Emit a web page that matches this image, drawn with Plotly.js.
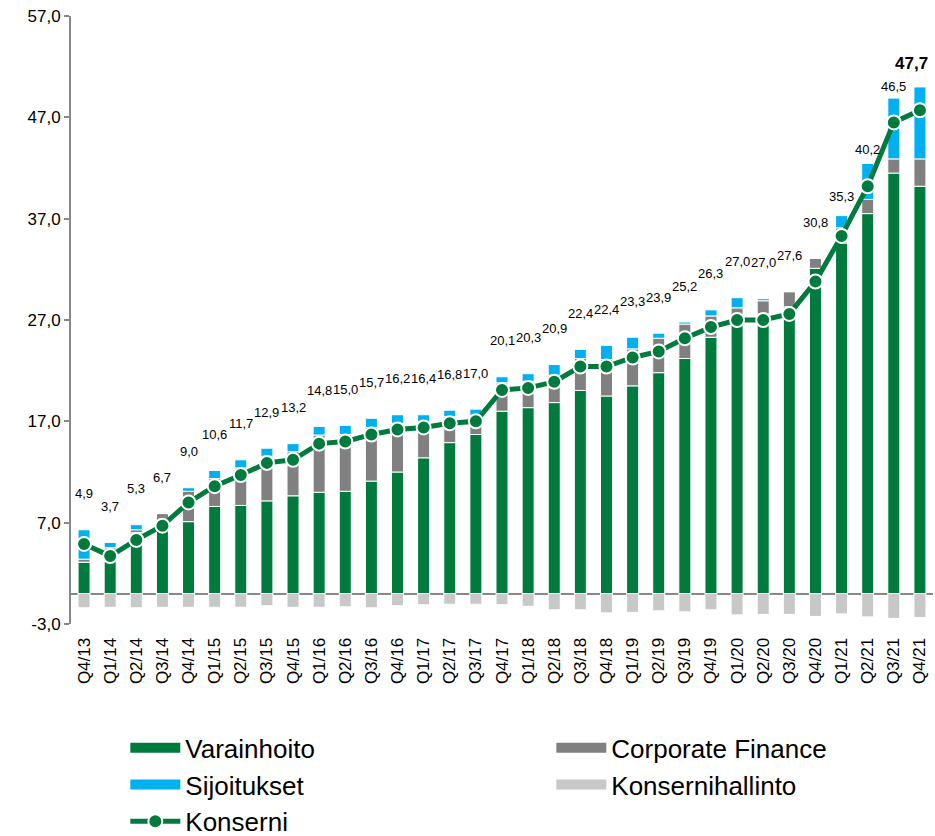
<!DOCTYPE html>
<html>
<head>
<meta charset="utf-8">
<script src="https://cdn.plot.ly/plotly-3.0.1.min.js"></script>
<style>
  body { margin: 0; background: #fff; }
  #PLOT { width: 935px; height: 836px; }
</style>
</head>
<body>
<div id="PLOT"></div>
<script>
const quarters = ['Q4/13', 'Q1/14', 'Q2/14', 'Q3/14', 'Q4/14', 'Q1/15', 'Q2/15', 'Q3/15', 'Q4/15',
  'Q1/16', 'Q2/16', 'Q3/16', 'Q4/16', 'Q1/17', 'Q2/17', 'Q3/17', 'Q4/17', 'Q1/18', 'Q2/18', 'Q3/18',
  'Q4/18', 'Q1/19', 'Q2/19', 'Q3/19', 'Q4/19', 'Q1/20', 'Q2/20', 'Q3/20', 'Q4/20', 'Q1/21', 'Q2/21',
  'Q3/21', 'Q4/21'];

const varainhoito = [3.1, 4.4, 6.0, 6.4, 7.1, 8.6, 8.7, 9.15, 9.65, 10.0, 10.1, 11.1, 12.0, 13.4, 14.9,
  15.7, 18.0, 18.35, 18.85, 20.05, 19.5, 20.5, 21.8, 23.2, 25.3, 26.9, 27.6, 28.3, 32.1, 34.6, 37.5, 41.5, 40.2];
const corporateFinance = [0.3, 0.15, 0.3, 1.5, 3.0, 2.75, 3.7, 4.4, 4.35, 5.65, 5.6, 5.3, 4.8, 3.55, 2.55,
  1.9, 2.8, 2.6, 2.7, 3.15, 3.6, 3.65, 3.4, 3.4, 2.1, 1.3, 1.3, 1.5, 1.0, 1.5, 1.4, 1.4, 2.7];
const sijoitukset = [2.9, 0.5, 0.5, 0, 0.35, 0.8, 0.8, 0.8, 0.8, 0.85, 0.9, 0.9, 0.85, 0.7, 0.65,
  0.6, 0.6, 0.75, 1.05, 0.9, 1.4, 1.15, 0.5, 0.2, 0.6, 1.0, 0.2, 0, 0, 1.2, 3.55, 6.0, 7.1];
const konsernihallinto = [-1.4, -1.35, -1.4, -1.35, -1.35, -1.35, -1.35, -1.2, -1.35, -1.35, -1.3, -1.4,
  -1.2, -1.1, -1.05, -1.05, -1.1, -1.25, -1.6, -1.6, -1.9, -1.85, -1.7, -1.8, -1.6, -2.1, -2.05, -2.05,
  -2.25, -2.0, -2.3, -2.45, -2.35];
const konserni = [4.9, 3.7, 5.3, 6.7, 9.0, 10.6, 11.7, 12.9, 13.2, 14.8, 15.0, 15.7, 16.2, 16.4, 16.8,
  17.0, 20.1, 20.3, 20.9, 22.4, 22.4, 23.3, 23.9, 25.2, 26.3, 27.0, 27.0, 27.6, 30.8, 35.3, 40.2, 46.5, 47.7];

const GREEN = '#007A3D';
const DARKGREY = '#808080';
const BLUE = '#00B0F0';
const LIGHTGREY = '#C8C8C8';
const FONT = 'Arial, "Liberation Sans", sans-serif';

function barTrace(name, values, color) {
  return {
    type: 'bar', name: name, x: quarters, y: values, legendgroup: name, showlegend: false,
    marker: { color: color, line: { color: '#ffffff', width: 1 } },
    hoverinfo: 'x+y+name'
  };
}

// wide legend swatches, like the original
function legendTrace(name, color) {
  return {
    type: 'scatter', mode: 'lines', name: name, legendgroup: name, x: [null], y: [null],
    line: { color: color, width: 10 }, hoverinfo: 'skip'
  };
}

const fmt = v => v.toFixed(1).replace('.', ',');

// y ticks -3 ... 57 with a plain hyphen as minus
let yTicks = [];
for (let v = -3; v <= 57; v += 10) yTicks.push(v);

let data = [
  barTrace('Varainhoito', varainhoito, GREEN),
  barTrace('Corporate Finance', corporateFinance, DARKGREY),
  barTrace('Sijoitukset', sijoitukset, BLUE),
  barTrace('Konsernihallinto', konsernihallinto, LIGHTGREY),
  legendTrace('Varainhoito', GREEN),
  legendTrace('Corporate Finance', DARKGREY),
  legendTrace('Sijoitukset', BLUE),
  legendTrace('Konsernihallinto', LIGHTGREY),
  {
    type: 'scatter', mode: 'lines+markers', name: 'Konserni', x: quarters, y: konserni,
    line: { color: GREEN, width: 5 },
    marker: { color: GREEN, size: 14, line: { color: '#ffffff', width: 2 } },
    hoverinfo: 'x+y+name'
  }
];

// value labels sit above the top of each stacked bar; the tall 2021 bars get them closer
const recentShift = [19, 14, 12, 23];
let annotations = quarters.map((q, i) => {
  const top = varainhoito[i] + corporateFinance[i] + sijoitukset[i];
  const last = i === quarters.length - 1;
  const k = i - (quarters.length - recentShift.length);
  return {
    x: q, y: top, yshift: k >= 0 ? recentShift[k] : 36, xshift: last ? -8 : 0,
    yanchor: 'middle', showarrow: false,
    text: last ? '<b>' + fmt(konserni[i]) + '</b>' : fmt(konserni[i]),
    font: { family: FONT, size: last ? 17 : 13, color: '#000' }
  };
});

let layout = {
  width: 935,
  height: 836,
  margin: { l: 71, r: 2, t: 16, b: 212, autoexpand: false },
  paper_bgcolor: '#fff',
  plot_bgcolor: '#fff',
  separators: ', ',
  barmode: 'relative',
  bargap: 0.54,
  font: { family: FONT, color: '#000' },
  showlegend: true,
  legend: {
    orientation: 'h', x: 0.063, xanchor: 'left', y: -0.165, yanchor: 'top',
    entrywidth: 361, entrywidthmode: 'pixels', itemwidth: 50,
    font: { family: FONT, size: 26, color: '#000' },
    traceorder: 'normal', bgcolor: 'rgba(0,0,0,0)'
  },
  xaxis: {
    type: 'category', range: [-0.5, quarters.length - 0.5], tickangle: -90,
    showline: false, showgrid: false, zeroline: false,
    ticks: 'outside', ticklen: 6, tickcolor: 'rgba(0,0,0,0)',
    tickfont: { family: FONT, size: 17, color: '#000' }
  },
  yaxis: {
    range: [-3, 57], tickmode: 'array', tickvals: yTicks, ticktext: yTicks.map(fmt),
    showgrid: false, showline: true, linecolor: '#888', linewidth: 2,
    ticks: 'outside', ticklen: 5, tickcolor: '#888', tickwidth: 2,
    zeroline: true, zerolinecolor: '#888', zerolinewidth: 2,
    tickfont: { family: FONT, size: 17, color: '#000' }
  },
  annotations: annotations
};

Plotly.newPlot('PLOT', data, layout, { displayModeBar: false, responsive: false });
</script>
</body>
</html>
